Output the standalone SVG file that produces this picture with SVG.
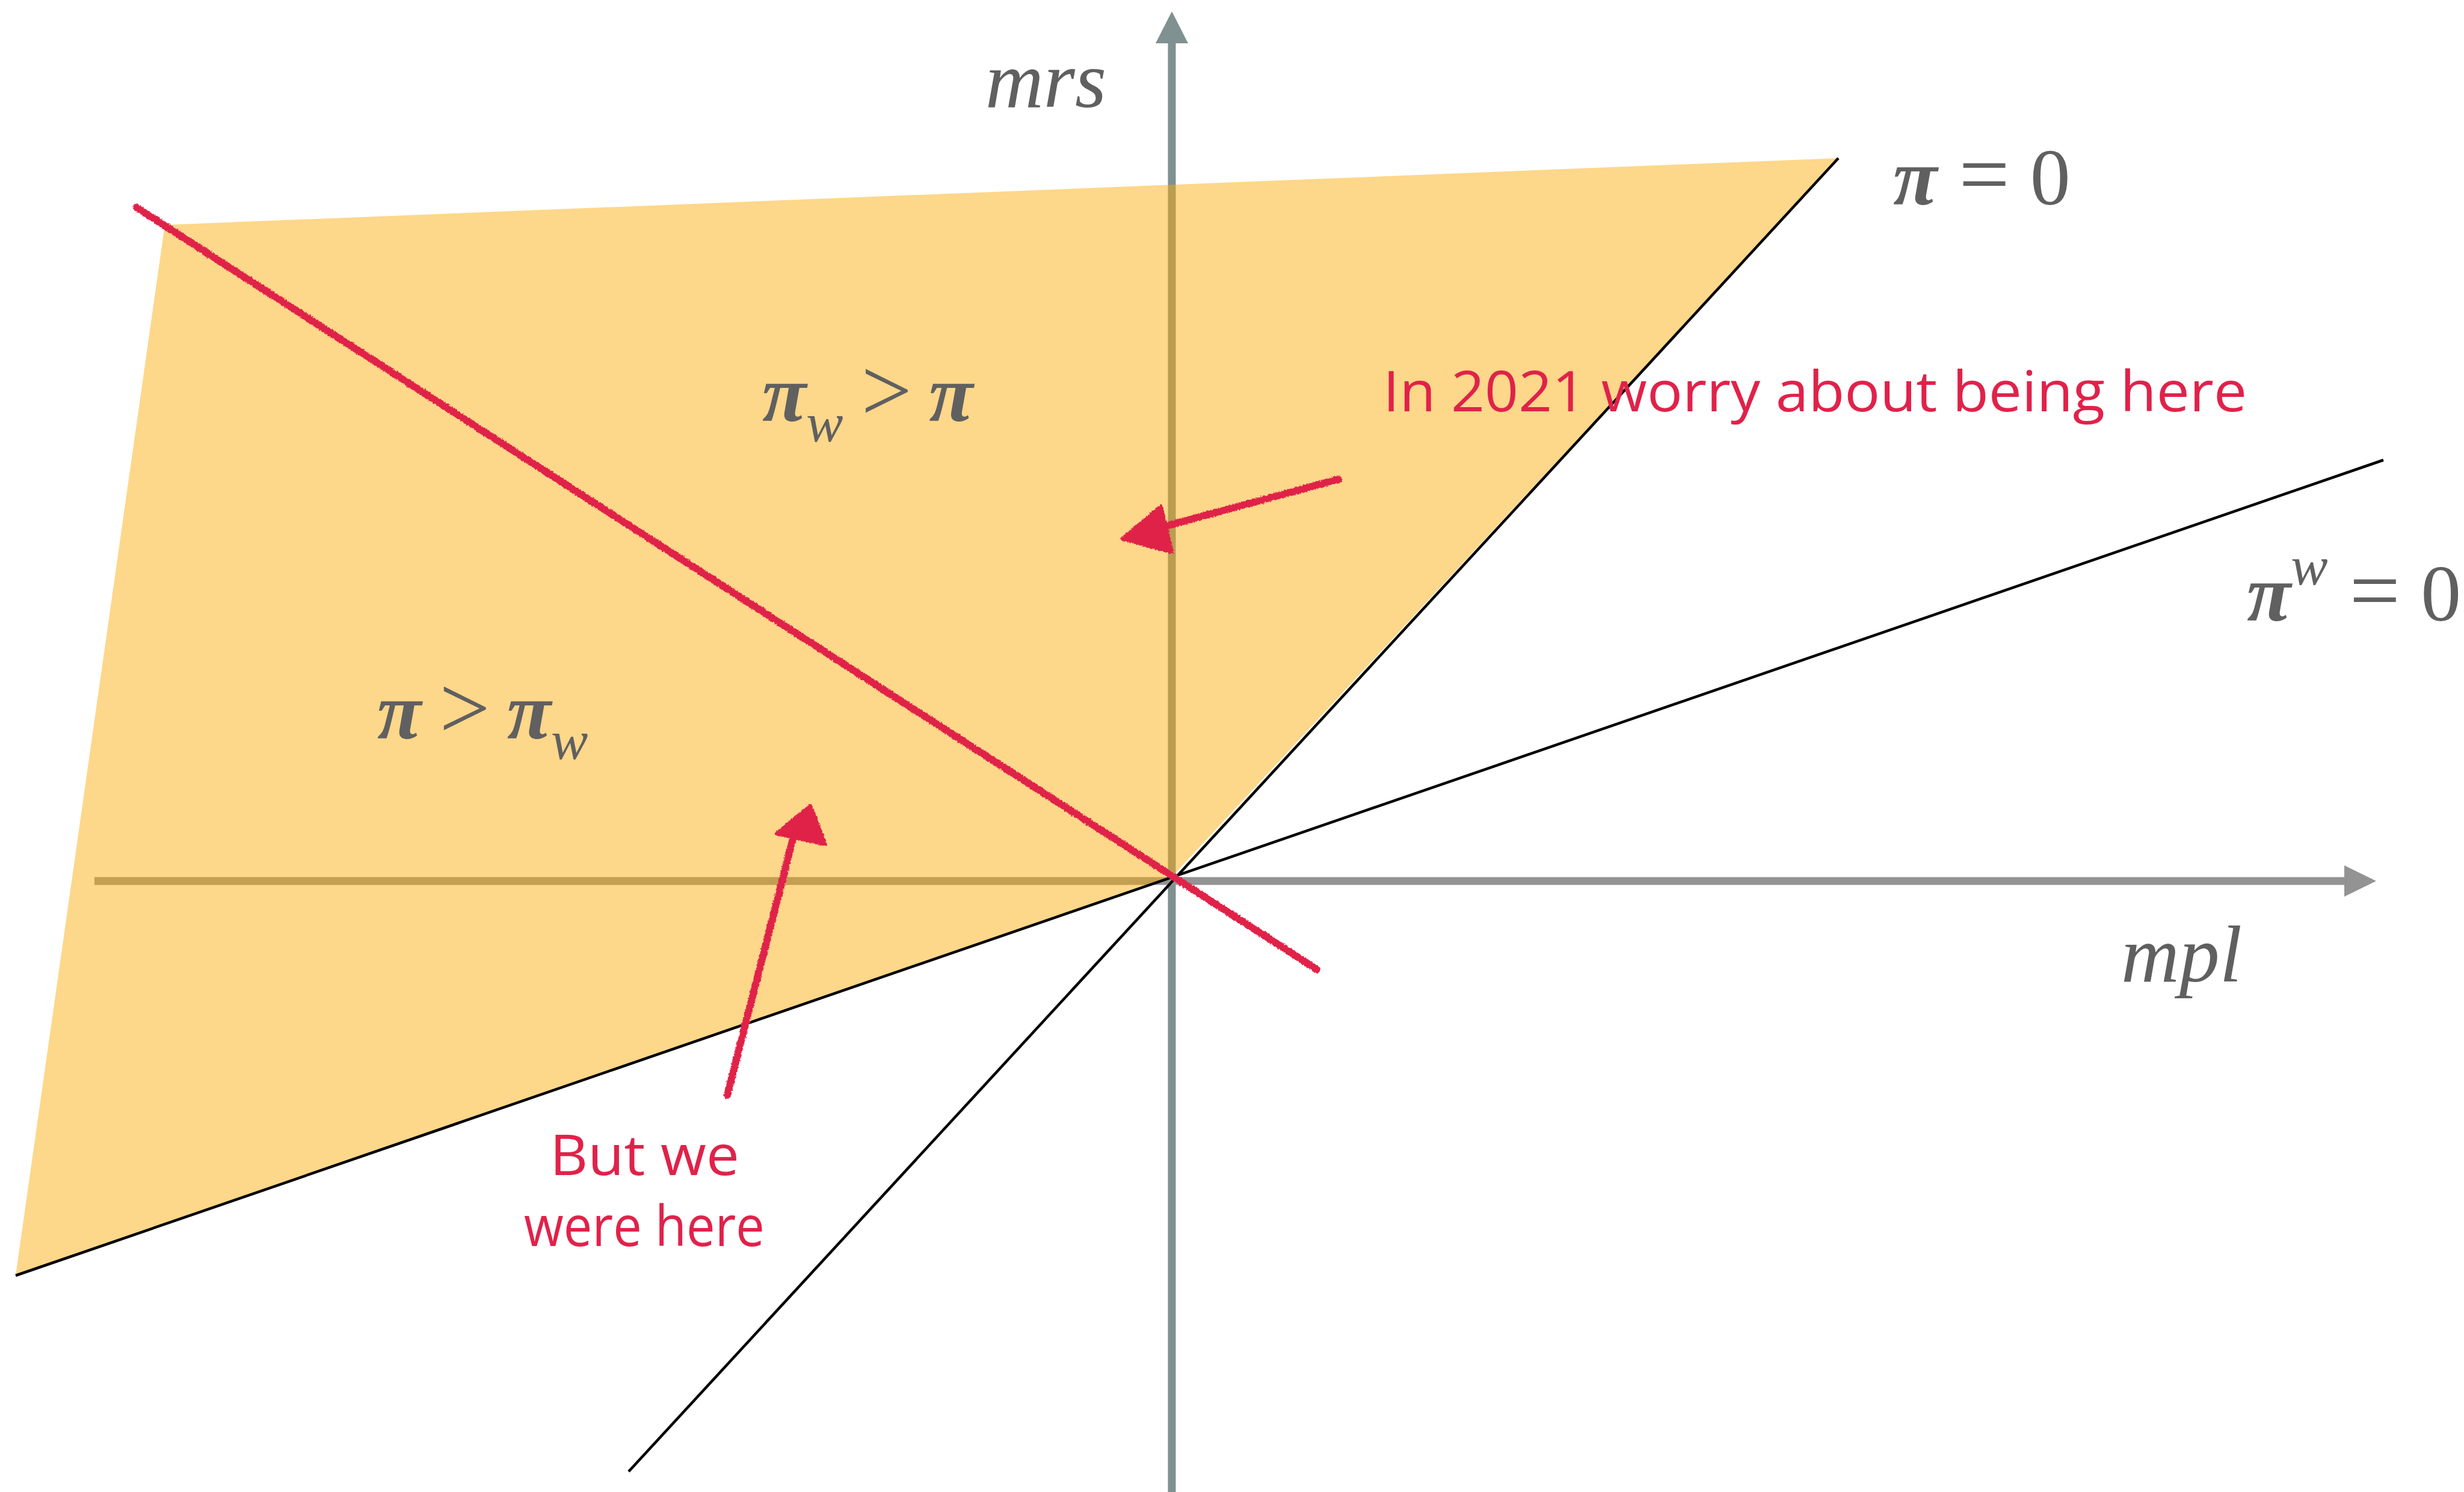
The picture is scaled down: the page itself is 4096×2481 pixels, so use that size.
<svg xmlns="http://www.w3.org/2000/svg" width="4096" height="2481" viewBox="0 0 4096 2481">
<defs>
<style>
.math{font-family:"Liberation Serif","DejaVu Serif",serif;fill:#606060;font-size:134px}
.it{font-style:italic}
.pi{font-style:italic;font-weight:bold}
.hand{font-family:"Open Sans","Liberation Sans",sans-serif;fill:#e0224a;font-size:94px}
.blk{stroke:#000;stroke-width:4.5;fill:none}
.red{stroke:#e0224a;stroke-width:12;fill:none;stroke-linecap:round}
</style>
<filter id="rough" x="-5%" y="-5%" width="110%" height="110%">
<feTurbulence type="fractalNoise" baseFrequency="0.35" numOctaves="2" seed="3"/>
<feDisplacementMap in="SourceGraphic" scale="5" xChannelSelector="R" yChannelSelector="G"/>
</filter>
</defs>
<rect width="4096" height="2481" fill="#fff"/>
<g id="axes">
<line x1="1948" y1="2481" x2="1948" y2="70" stroke="#7f9190" stroke-width="13"/>
<polygon points="1948,19 1921,72 1975,72" fill="#7f9190"/>
<line x1="157" y1="1465" x2="3900" y2="1465" stroke="#939393" stroke-width="13"/>
<polygon points="3950,1465 3897,1439 3897,1491" fill="#939393"/>
</g>
<g id="region">
<polygon points="274,374 3056,263 1948,1458 26,2121" fill="#fbac0b" fill-opacity="0.48"/>
</g>
<g id="connectors">
<line class="blk" x1="3056" y1="263" x2="1045" y2="2447"/>
<line class="blk" x1="3962" y1="765" x2="26" y2="2121"/>
<g filter="url(#rough)">
<line class="red" x1="227" y1="345" x2="2189" y2="1612"/>
<line class="red" x1="2225" y1="797" x2="1930" y2="877"/>
<polygon points="1866,896 1930,842 1948,918" fill="#e0224a" stroke="#e0224a" stroke-width="6" stroke-linejoin="round"/>
<line class="red" x1="1209" y1="1821" x2="1318" y2="1395"/>
<polygon points="1347,1340 1291,1386 1372,1404" fill="#e0224a" stroke="#e0224a" stroke-width="6" stroke-linejoin="round"/>
</g>
</g>
<g id="label-mrs"><text class="math it" x="1638" y="178">mrs</text></g>
<g id="label-mpl"><text class="math it" x="3526" y="1632">mpl</text></g>
<g id="label-pi0"><text class="math" x="3147" y="340"><tspan class="pi">π</tspan><tspan dx="36" font-size="150">=</tspan><tspan dx="34">0</tspan></text></g>
<g id="label-piw0"><text class="math" x="3735" y="1032"><tspan class="pi">π</tspan><tspan class="it" font-size="92" dy="-60">w</tspan><tspan dx="36" dy="60" font-size="150">=</tspan><tspan dx="34">0</tspan></text></g>
<g id="label-piw-gt-pi"><text class="math" x="1267" y="700"><tspan class="pi">π</tspan><tspan class="it" font-size="92" dy="34">w</tspan><tspan dx="30" dy="-34" font-size="150">&gt;</tspan><tspan class="pi" dx="28">π</tspan></text></g>
<g id="label-pi-gt-piw"><text class="math" x="627" y="1228"><tspan class="pi">π</tspan><tspan dx="30" font-size="150">&gt;</tspan><tspan class="pi" dx="28">π</tspan><tspan class="it" font-size="92" dy="34">w</tspan></text></g>
<g id="note-2021"><text class="hand" x="2299" y="684" textLength="1436" lengthAdjust="spacingAndGlyphs">In 2021 worry about being here</text></g>
<g id="note-here">
<text class="hand" x="914" y="1954" textLength="315" lengthAdjust="spacingAndGlyphs">But we</text>
<text class="hand" x="871" y="2072" textLength="400" lengthAdjust="spacingAndGlyphs">were here</text>
</g>
</svg>
